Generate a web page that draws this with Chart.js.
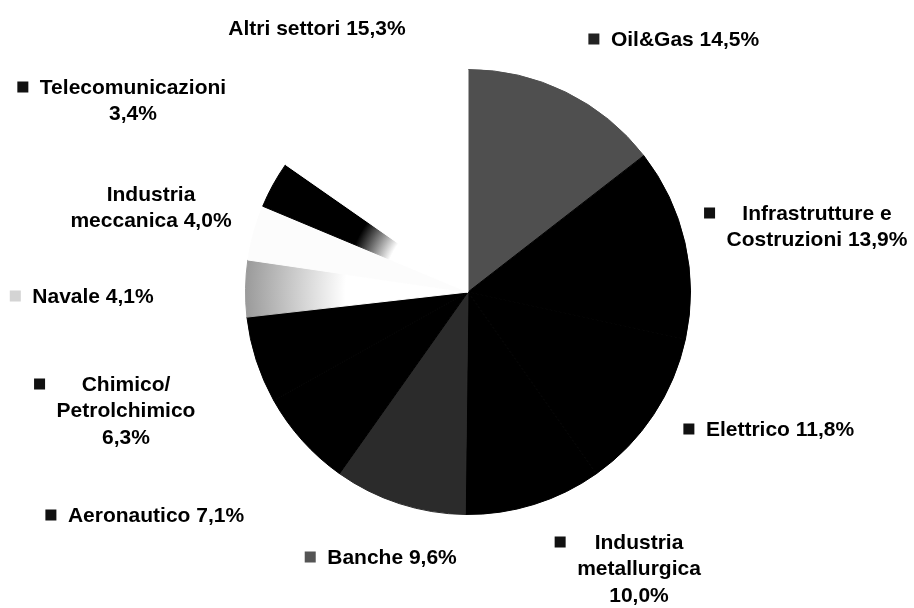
<!DOCTYPE html>
<html>
<head>
    <title>Settori</title>
    <script src="https://cdn.jsdelivr.net/npm/chart.js"></script>
    <style>
        body { margin: 0; background: #fff; }
        #wrap { width: 914px; height: 608px; }
    </style>
</head>
<body>
    <div id="wrap"><canvas id="pieChart"></canvas></div>

    <script>
        var sectors = ['Oil&Gas', 'Infrastrutture e Costruzioni', 'Elettrico', 'Industria metallurgica', 'Banche',
            'Aeronautico', 'Chimico/ Petrolchimico', 'Navale', 'Industria meccanica', 'Telecomunicazioni', 'Altri settori'];
        var shares = [14.5, 13.9, 11.8, 10.0, 9.6, 7.1, 6.3, 4.1, 4.0, 3.4, 15.3];

        // the original is a black & white scan, so greys stand in for the dithered fills
        var sliceFill = ['#4f4f4f', '#000', '#000', '#000', '#2b2b2b', '#000', '#000', 'fadeGray', '#fcfcfc', 'fadeBlack', '#fff'];
        var keyColor = ['#222', '#111', '#111', '#111', '#555', '#111', '#111', '#d4d4d4', null, '#111', null];
        // label block centre, relative to the pie centre, and the width to wrap at
        var labelAt = [[217, -252], [349, -78], [312, 138], [171, 251], [-76, 266], [-312, 224],
            [-342, 93], [-375, 5], [-317, -97], [-335, -204], [-151, -263]];
        var wrapAt = [400, 220, 400, 140, 400, 400, 150, 400, 188, 215, 400];

        function fillFor(ctx) {
            var kind = sliceFill[ctx.dataIndex];
            if (kind !== 'fadeGray' && kind !== 'fadeBlack') return kind;
            var chart = ctx.chart, area = chart.chartArea;
            if (!area) return '#fff';
            var cx = (area.left + area.right) / 2, cy = (area.top + area.bottom) / 2;
            var r = Math.min(area.width, area.height) / 2;
            var g = chart.ctx.createRadialGradient(cx, cy, 0, cx, cy, r);
            if (kind === 'fadeBlack') {
                g.addColorStop(0, '#fff');
                g.addColorStop(0.38, '#fff');
                g.addColorStop(0.55, '#000');
                g.addColorStop(1, '#000');
            } else {
                g.addColorStop(0, '#fff');
                g.addColorStop(0.55, '#fff');
                g.addColorStop(1, '#9a9a9a');
            }
            return g;
        }

        function wrap(c, text, maxW) {
            var words = text.split(' '), lines = [], cur = '';
            words.forEach(function (w) {
                var test = cur ? cur + ' ' + w : w;
                if (cur && c.measureText(test).width > maxW) {
                    lines.push(cur);
                    cur = w;
                } else {
                    cur = test;
                }
            });
            lines.push(cur);
            return lines;
        }

        var sliceLabels = {
            id: 'sliceLabels',
            afterDraw: function (chart) {
                var c = chart.ctx;
                var arcs = chart.getDatasetMeta(0).data;
                c.save();
                c.font = 'bold 21px "Liberation Sans", Arial, sans-serif';
                c.textAlign = 'center';
                c.textBaseline = 'middle';
                arcs.forEach(function (arc, i) {
                    var text = sectors[i] + ' ' + shares[i].toFixed(1).replace('.', ',') + '%';
                    var lines = wrap(c, text, wrapAt[i]);
                    var x = arc.x + labelAt[i][0], y = arc.y + labelAt[i][1];
                    var widest = Math.max.apply(null, lines.map(function (l) { return c.measureText(l).width; }));
                    c.fillStyle = '#000';
                    lines.forEach(function (l, k) { c.fillText(l, x, y + k * 26.5); });
                    if (keyColor[i]) {
                        c.fillStyle = keyColor[i];
                        c.fillRect(x - widest / 2 - 17 - 5.5, y - 6.5, 11, 11);
                    }
                });
                c.restore();
            }
        };

        new Chart(document.getElementById('pieChart'), {
            type: 'pie',
            data: {
                labels: sectors,
                datasets: [{
                    data: shares,
                    backgroundColor: fillFor,
                    borderColor: fillFor,
                    borderWidth: 1
                }]
            },
            options: {
                responsive: true,
                maintainAspectRatio: false,
                animation: false,
                layout: { padding: { top: 69, bottom: 93, left: 245, right: 223 } },
                plugins: {
                    legend: { display: false },
                    tooltip: { enabled: false }
                }
            },
            plugins: [sliceLabels]
        });
    </script>
</body>
</html>
